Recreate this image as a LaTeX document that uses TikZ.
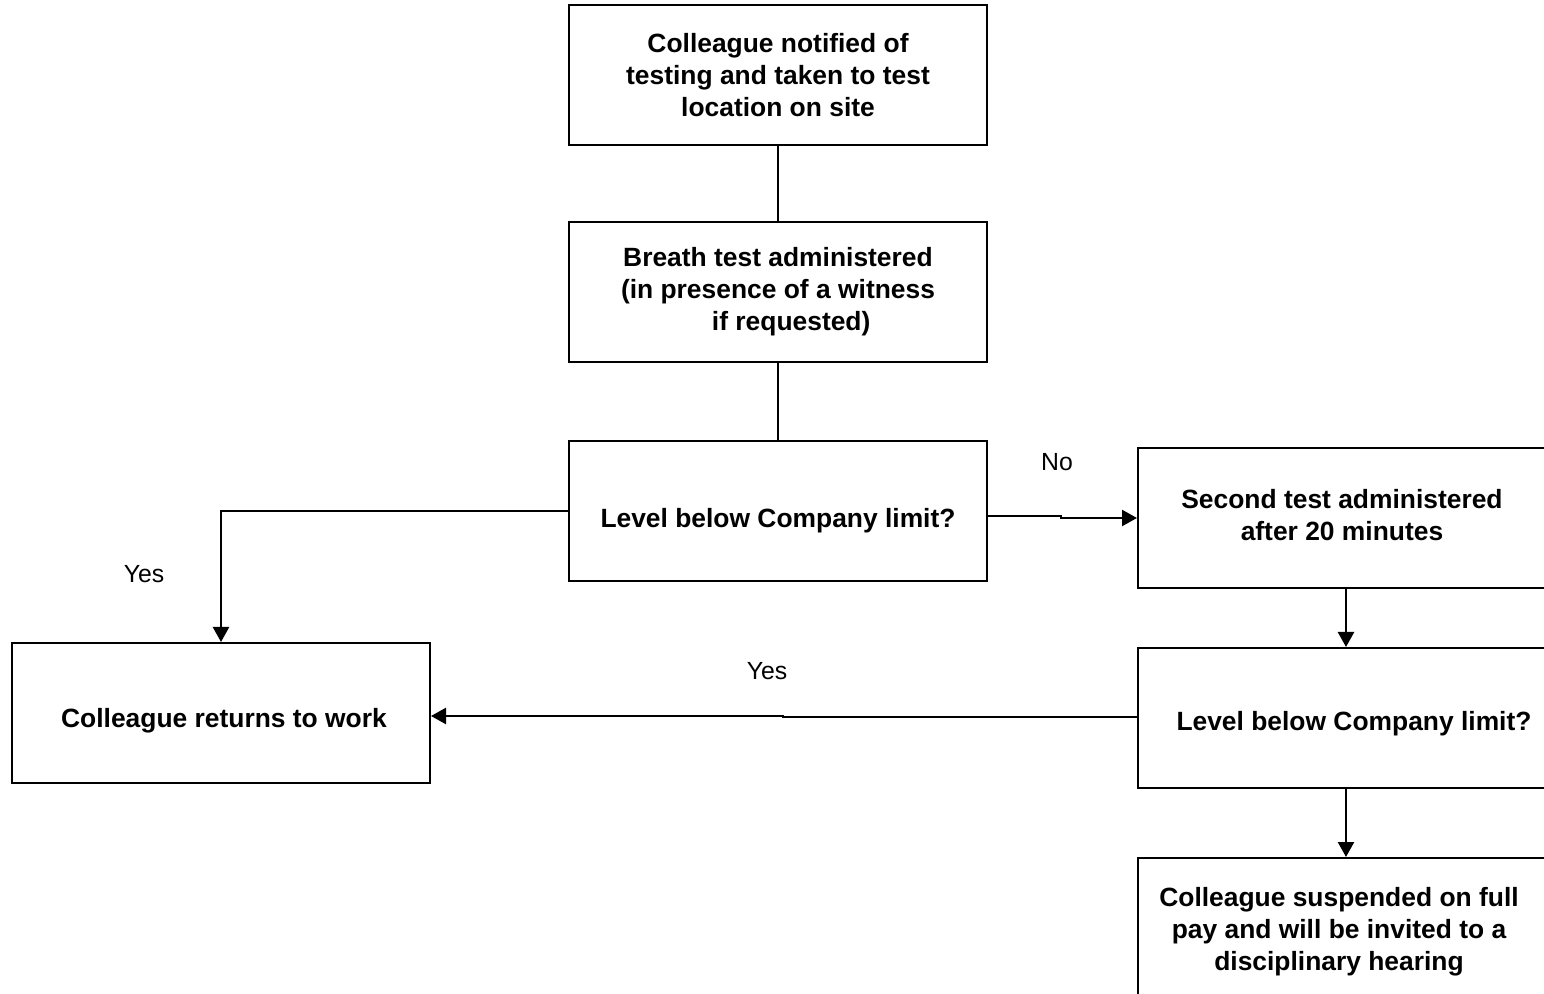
\documentclass[tikz,border=0pt]{standalone}
\usepackage{fontspec}
\setmainfont{Liberation Sans}
\usetikzlibrary{arrows.meta}
\begin{document}
\begin{tikzpicture}[x=0.5pt,y=-0.5pt,
  bfont/.style={font=\fontsize{13.2pt}{16pt}\selectfont\bfseries},
  box/.style={draw=black,line width=1pt,minimum width=209pt,minimum height=70pt,inner sep=0pt,
    align=center,bfont},
  txt/.style={align=center,bfont,inner sep=0pt},
  lab/.style={font=\fontsize{12.4pt}{14pt}\selectfont,inner sep=0pt},
  conn/.style={line width=1.2pt,draw=black},
  arr/.style={conn,-{Triangle[length=7.5pt,width=8pt]}}]
\useasboundingbox (0,0) rectangle (1544,994);
\clip (0,0) rectangle (1544,994);
\node[box] (n1) at (778,75) {Colleague notified of\\testing and taken to test\\location on site};
\node[box] (n2) at (778,292) {Breath test administered\\(in presence of a witness\\\hspace*{1em}if requested)};
\node[box] (d1) at (778,511) {};
\node[txt] (t1) at (778,521) {Level below Company limit?};
\node[box,anchor=north west] (n4) at (1137,447) {};
\node[txt] (t4) at (1342,515) {Second test administered\\after 20 minutes};
\node[box,anchor=north west] (d2) at (1137,647) {};
\node[txt] (t5) at (1354,724) {Level below Company limit?};
\node[box,anchor=north west,minimum height=90pt] (n6) at (1137,857) {};
\node[txt] (t6) at (1339,932) {Colleague suspended on full\\pay and will be invited to a\\disciplinary hearing};
\node[box] (rw) at (221,713) {};
\node[txt] (t7) at (224,721) {Colleague returns to work};
\node[lab] (no) at (1057,462) {No};
\node[lab] (yes1) at (144,574) {Yes};
\node[lab] (yes2) at (767,671) {Yes};
\coordinate (c1) at (221,511);
\draw[conn] (n1.south) -- (n2.north);
\draw[conn] (n2.south) -- (d1.north);
\draw[arr] (d1.west) -- (c1) -- (rw.north);
\coordinate (j1) at (1061,516);
\coordinate (j2) at (1061,518);
\draw[arr] (d1.east |- j1) -- (j1) -- (j2) -- (n4.west |- j2);
\draw[arr] (n4.south -| 1346,0) -- (d2.north -| 1346,0);
\coordinate (k1) at (783,717);
\coordinate (k2) at (783,716);
\draw[arr] (d2.west |- k1) -- (k1) -- (k2) -- (rw.east |- k2);
\draw[arr] (d2.south -| 1346,0) -- (n6.north -| 1346,0);
\end{tikzpicture}
\end{document}
